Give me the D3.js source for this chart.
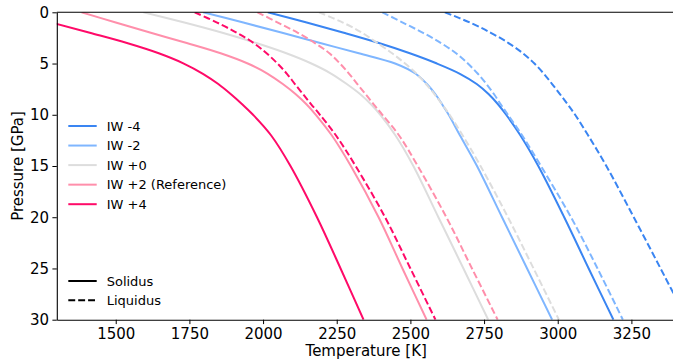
<!DOCTYPE html>
<html>
<head>
<meta charset="utf-8">
<script src="https://cdn.jsdelivr.net/npm/d3@7"></script>
<style>
  html, body { margin: 0; padding: 0; background: #fff; }
  svg { display: block; font-family: "DejaVu Sans", sans-serif; }
</style>
</head>
<body>
<svg id="chart" width="673" height="364"></svg>
<script>
// Pressure grid (GPa) shared by every melting curve
const pressure = [0, 1, 2, 3, 4, 5, 6, 7, 8, 9, 10, 12, 15, 20, 25, 30];

// Oxygen fugacity labels and colours
const seriesNames = ["IW -4", "IW -2", "IW +0", "IW +2 (Reference)", "IW +4"];
const seriesColors = ["#3a85f2", "#7fb6ff", "#dddddd", "#ff8fab", "#ff0a68"];

// Solidus temperature (K) at each pressure, one row per series
const solidusIWm4 = [2016, 2148, 2274, 2393, 2498, 2590, 2668, 2725, 2766, 2798, 2825, 2873, 2934, 3022, 3105, 3189];
const solidusIWm2 = [1797, 1933, 2065, 2194, 2325, 2448, 2518, 2556, 2585, 2608, 2630, 2668, 2726, 2811, 2896, 2981];
const solidusIW0  = [1594, 1733, 1862, 1977, 2079, 2164, 2232, 2284, 2330, 2367, 2398, 2449, 2510, 2595, 2680, 2764];
const solidusIWp2 = [1384, 1500, 1619, 1741, 1856, 1948, 2016, 2067, 2111, 2148, 2179, 2233, 2298, 2392, 2473, 2555];
const solidusIWp4 = [1151, 1283, 1412, 1538, 1646, 1731, 1796, 1848, 1891, 1930, 1966, 2027, 2093, 2183, 2263, 2341];

// Liquidus temperature (K) at each pressure
const liquidusIWm4 = [2617, 2702, 2773, 2833, 2882, 2921, 2953, 2981, 3008, 3034, 3059, 3103, 3165, 3258, 3349, 3439];
const liquidusIWm2 = [2405, 2474, 2543, 2604, 2655, 2695, 2729, 2758, 2784, 2807, 2831, 2879, 2943, 3045, 3135, 3221];
const liquidusIW0  = [2190, 2271, 2336, 2388, 2438, 2482, 2521, 2553, 2582, 2608, 2633, 2677, 2738, 2831, 2918, 3004];
const liquidusIWp2 = [1981, 2050, 2118, 2176, 2225, 2261, 2292, 2320, 2348, 2376, 2405, 2461, 2525, 2622, 2709, 2796];
const liquidusIWp4 = [1768, 1844, 1911, 1968, 2012, 2049, 2081, 2108, 2136, 2164, 2193, 2247, 2314, 2414, 2500, 2585];

const solidus = [solidusIWm4, solidusIWm2, solidusIW0, solidusIWp2, solidusIWp4];
const liquidus = [liquidusIWm4, liquidusIWm2, liquidusIW0, liquidusIWp2, liquidusIWp4];

// Axis ticks
const xTicks = [1500, 1750, 2000, 2250, 2500, 2750, 3000, 3250];
const yTicks = [0, 5, 10, 15, 20, 25, 30];

const svg = d3.select("#chart");
const plotLeft = 56.8, plotRight = 675.6, plotTop = 12.3, plotBottom = 319.7;

const x = d3.scaleLinear().domain([1300, 3400]).range([plotLeft, plotRight]);
const y = d3.scaleLinear().domain([0, 30]).range([plotTop, plotBottom]);

svg.append("defs").append("clipPath").attr("id", "plotClip")
  .append("rect").attr("x", plotLeft).attr("y", plotTop)
  .attr("width", plotRight - plotLeft).attr("height", plotBottom - plotTop);

const plot = svg.append("g").attr("clip-path", "url(#plotClip)");

const line = d3.line()
  .x(d => x(d[0]))
  .y(d => y(d[1]))
  .curve(d3.curveCatmullRom.alpha(0.5));

const dash = "6.9,3";

// Solidus (solid) and liquidus (dashed) curves for each series
seriesNames.forEach((name, i) => {
  plot.append("path")
    .attr("d", line(pressure.map((p, k) => [solidus[i][k], p])))
    .attr("fill", "none")
    .attr("stroke", seriesColors[i])
    .attr("stroke-width", 2);
  plot.append("path")
    .attr("d", line(pressure.map((p, k) => [liquidus[i][k], p])))
    .attr("fill", "none")
    .attr("stroke", seriesColors[i])
    .attr("stroke-width", 2)
    .attr("stroke-dasharray", dash);
});

// Axes
const xAxis = svg.append("g")
  .attr("transform", `translate(0,${plotBottom})`)
  .call(d3.axisBottom(x).tickValues(xTicks).tickFormat(d3.format("d"))
    .tickSize(4.4).tickSizeOuter(0).tickPadding(4.2));
const yAxis = svg.append("g")
  .attr("transform", `translate(${plotLeft},0)`)
  .call(d3.axisLeft(y).tickValues(yTicks).tickFormat(d3.format("d"))
    .tickSize(4.4).tickSizeOuter(0).tickPadding(3.3));

[xAxis, yAxis].forEach(g => {
  g.selectAll("text").attr("font-size", 15).attr("fill", "#000")
    .attr("font-family", "DejaVu Sans, sans-serif");
  g.selectAll("line").attr("stroke", "#000").attr("stroke-width", 1);
  g.select(".domain").attr("stroke", "#000").attr("stroke-width", 1.1);
});

// Top spine
svg.append("line")
  .attr("x1", plotLeft).attr("x2", plotRight).attr("y1", plotTop).attr("y2", plotTop)
  .attr("stroke", "#000").attr("stroke-width", 1.1);

// Axis titles
svg.append("text")
  .attr("x", (plotLeft + plotRight) / 2).attr("y", 356)
  .attr("text-anchor", "middle").attr("font-size", 15)
  .text("Temperature [K]");
svg.append("text")
  .attr("transform", `translate(23,${(plotTop + plotBottom) / 2}) rotate(-90)`)
  .attr("text-anchor", "middle").attr("font-size", 15)
  .text("Pressure [GPa]");

// Legend for oxygen fugacity
const legendX1 = 68.3, legendX2 = 96.7, legendTextX = 106.7;
const legendY0 = 126, legendStep = 19.55;
seriesNames.forEach((name, i) => {
  const ly = legendY0 + i * legendStep;
  svg.append("line")
    .attr("x1", legendX1).attr("x2", legendX2).attr("y1", ly).attr("y2", ly)
    .attr("stroke", seriesColors[i]).attr("stroke-width", 2);
  svg.append("text")
    .attr("x", legendTextX).attr("y", ly + 4.7)
    .attr("font-size", 13).text(name);
});

// Legend for line style
const styleNames = ["Solidus", "Liquidus"];
const styleY0 = 281;
styleNames.forEach((name, i) => {
  const ly = styleY0 + i * 19.3;
  svg.append("line")
    .attr("x1", legendX1).attr("x2", legendX2).attr("y1", ly).attr("y2", ly)
    .attr("stroke", "#000").attr("stroke-width", 2)
    .attr("stroke-dasharray", i === 1 ? dash : null);
  svg.append("text")
    .attr("x", legendTextX).attr("y", ly + 4.7)
    .attr("font-size", 13).text(name);
});
</script>
</body>
</html>
